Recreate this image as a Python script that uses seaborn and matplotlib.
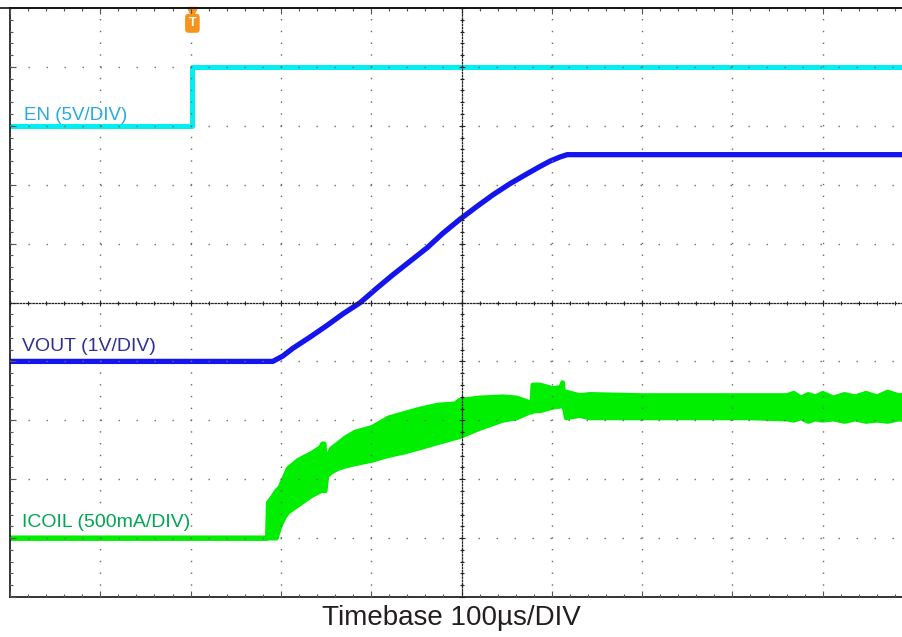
import numpy as np
import pandas as pd
import matplotlib
matplotlib.use("Agg")
import matplotlib.pyplot as plt
from matplotlib.ticker import MultipleLocator
from matplotlib.lines import Line2D
import seaborn as sns

# time axis in microseconds (trigger at 0), 100 us per division
en_time = [-200, 2, 2, 800]
en_volts = [0.0, 0.0, 5.0, 5.0]

vout_time = [-200, 91, 102, 113, 132, 151, 169, 188, 206, 224, 243, 262,
             279, 298, 317, 335, 354, 372, 387, 398, 409, 417, 800]
vout_volts = [0.0, 0.0, 0.09, 0.22, 0.41, 0.61, 0.81, 1.0, 1.24, 1.47, 1.70, 1.93,
              2.17, 2.41, 2.63, 2.83, 3.02, 3.18, 3.31, 3.40, 3.47, 3.51, 3.51]

# coil current ripple envelope (amps)
icoil_time = [-200, 85, 86, 90, 95, 99, 104, 108, 119, 134, 144, 146, 148, 149,
              151, 156, 163, 171, 182, 201, 219, 237, 256, 274, 293, 298, 320,
              346, 361, 376, 378, 379, 387, 401, 410, 412, 414, 416, 431, 442,
              500, 560, 620, 660, 668, 676, 684, 692, 700, 712, 724, 736, 748,
              760, 772, 784, 800]
icoil_top = [0.0, 0.0, 0.30, 0.34, 0.40, 0.43, 0.52, 0.59, 0.66, 0.72, 0.77, 0.80,
             0.80, 0.66, 0.68, 0.76, 0.80, 0.85, 0.90, 0.94, 1.02, 1.06, 1.10,
             1.13, 1.14, 1.17, 1.19, 1.20, 1.19, 1.15, 1.15, 1.30, 1.30, 1.27,
             1.28, 1.32, 1.14, 1.24, 1.21, 1.22, 1.21, 1.21, 1.21, 1.21, 1.23,
             1.19, 1.22, 1.20, 1.23, 1.19, 1.22, 1.20, 1.23, 1.20, 1.24, 1.21, 1.22]
icoil_bottom = [0.0, 0.0, 0.0, 0.0, 0.0, 0.10, 0.18, 0.22, 0.28, 0.36, 0.40, 0.41,
                0.40, 0.40, 0.53, 0.56, 0.59, 0.61, 0.63, 0.66, 0.70, 0.73, 0.77,
                0.81, 0.85, 0.86, 0.93, 1.00, 1.02, 1.07, 1.07, 1.08, 1.08, 1.11,
                1.12, 1.13, 1.10, 1.02, 1.04, 1.02, 1.02, 1.02, 1.02, 1.01, 1.00,
                1.02, 0.99, 1.01, 1.00, 1.01, 0.99, 1.01, 0.99, 1.00, 0.99, 1.01, 1.00]

# channel scale (units/div) and screen offset (div)
EN_SCALE, EN_OFFSET = 5.0, 3.0
VOUT_SCALE, VOUT_OFFSET = 1.0, -1.0
ICOIL_SCALE, ICOIL_OFFSET = 0.5, -4.0

sns.set_theme(style="white")
plt.rcParams["font.family"] = ["Liberation Sans", "DejaVu Sans"]
plt.rcParams["lines.scale_dashes"] = False

W, H = 902, 637
fig = plt.figure(figsize=(W / 100, H / 100), dpi=100, facecolor="white")
left, right, top, bottom = 10, 913, 8, 597
rect = [left / W, 1 - bottom / H, (right - left) / W, (bottom - top) / H]
ax = fig.add_axes(rect)

en_df = pd.DataFrame({"t": en_time, "div": np.array(en_volts) / EN_SCALE + EN_OFFSET})
vout_df = pd.DataFrame({"t": vout_time, "div": np.array(vout_volts) / VOUT_SCALE + VOUT_OFFSET})
ic_top = np.array(icoil_top) / ICOIL_SCALE + ICOIL_OFFSET
ic_bot = np.array(icoil_bottom) / ICOIL_SCALE + ICOIL_OFFSET

ax.fill_between(icoil_time, ic_bot, ic_top, color="#00EE00", ec="#00EE00", lw=3.4)
sns.lineplot(data=en_df, x="t", y="div", estimator=None, sort=False,
             color="#00EFF2", lw=3.6, ax=ax)
sns.lineplot(data=vout_df, x="t", y="div", estimator=None, sort=False,
             color="#1414EE", lw=3.8, ax=ax)

ax.set_xlim(-200, 800)
ax.set_ylim(-5, 5)
ax.xaxis.set_major_locator(MultipleLocator(100))
ax.xaxis.set_minor_locator(MultipleLocator(20))
ax.yaxis.set_major_locator(MultipleLocator(1))
ax.yaxis.set_minor_locator(MultipleLocator(0.2))
ax.set_xlabel("")
ax.set_ylabel("")

# scope graticule: dotted lines, drawn over the traces
ax.set_axisbelow(False)
ax.grid(True, axis="x", which="major", color="#6a6a6a", lw=1.0, ls=(0, (1, 7.48)))
ax.grid(True, axis="y", which="major", color="#6a6a6a", lw=1.0, ls=(0, (1, 11.96)))
ax.tick_params(which="both", direction="in", bottom=True, top=True, left=True, right=True,
               labelbottom=False, labelleft=False, color="#555555", width=0.8)
ax.tick_params(which="minor", length=2.2)
ax.tick_params(which="major", length=4.0)
for s in ax.spines.values():
    s.set_color("#111111")
    s.set_linewidth(1.2)

# centre cross lines with tick marks
ax2 = fig.add_axes(rect, sharex=ax, sharey=ax)
ax2.set_facecolor("none")
ax2.spines["top"].set_visible(False)
ax2.spines["right"].set_visible(False)
ax2.spines["left"].set_position(("data", 300))
ax2.spines["bottom"].set_position(("data", 0))
for s in ["left", "bottom"]:
    ax2.spines[s].set_linestyle((0, (1, 1.3)))
    ax2.spines[s].set_color("#222222")
    ax2.spines[s].set_linewidth(0.9)
ax2.tick_params(which="both", direction="inout", bottom=True, left=True,
                labelbottom=False, labelleft=False, color="#222222", width=0.8)
ax2.tick_params(which="minor", length=3.0)
ax2.tick_params(which="major", length=5.0)

# top frame line runs across the whole picture
fig.add_artist(Line2D([0, 1], [1 - top / H] * 2, transform=fig.transFigure,
                      color="#111111", lw=1.2))

# trigger marker
trig = en_time[1]
xt = ax.get_xaxis_transform()
ax.plot([trig], [0.993], marker="v", color="#F7941D", ms=6.5, transform=xt, clip_on=False)
ax.text(trig, 0.974, "T", transform=xt, ha="center", va="center", color="white",
        fontsize=9, fontweight="bold",
        bbox=dict(boxstyle="round,pad=0.28", fc="#F7941D", ec="none"))

# channel labels
ax.text(-185, 3.09, "EN (5V/DIV)", color="#27AAE1", fontsize=13.5, va="baseline")
ax.text(-187, -0.815, "VOUT (1V/DIV)", color="#2E3192", fontsize=14, va="baseline")
ax.text(-187, -3.82, "ICOIL (500mA/DIV)", color="#00A651", fontsize=14, va="baseline")

fig.text(0.5, 1 - 625 / H, "Timebase 100µs/DIV", ha="center", va="baseline",
         fontsize=20, color="#231F20")

fig.savefig("out.png", dpi=100)
